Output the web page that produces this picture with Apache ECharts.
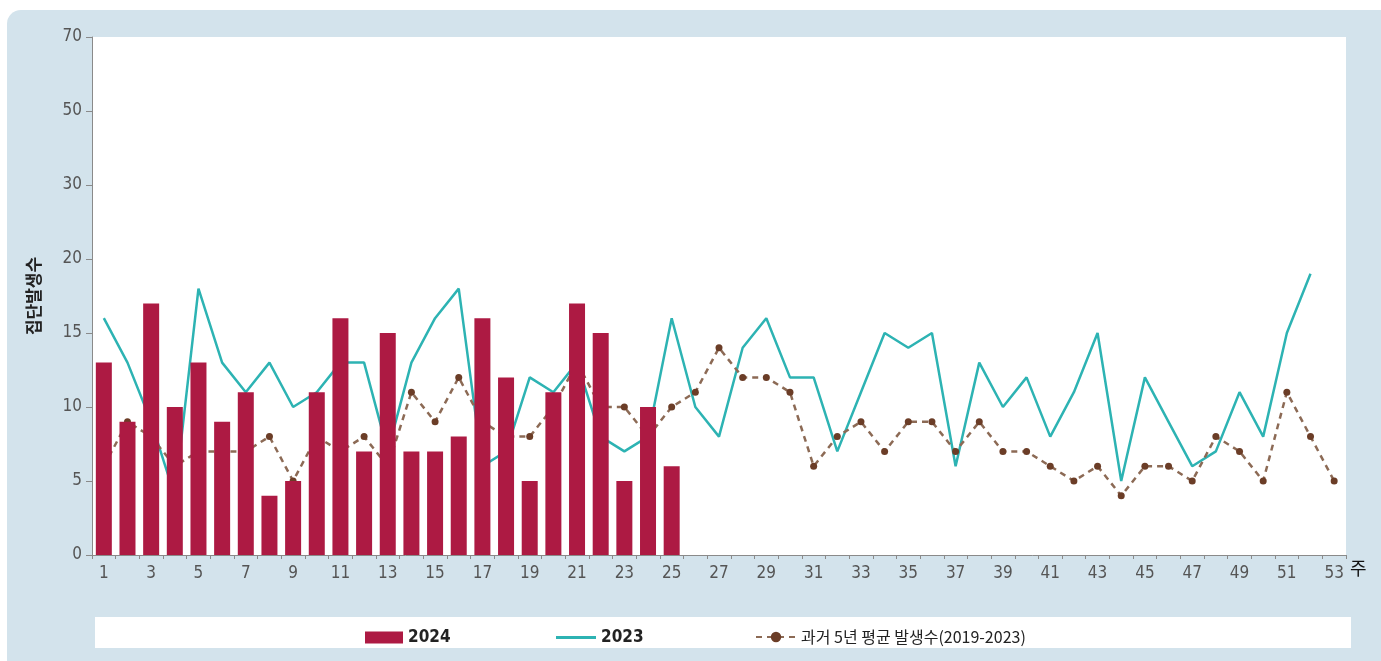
<!DOCTYPE html>
<html>
<head>
<meta charset="utf-8">
<script src="https://cdn.jsdelivr.net/npm/echarts@6/dist/echarts.min.js"></script>
<style>
  html, body { margin: 0; padding: 0; background: #fff; }
  #main { width: 1381px; height: 661px; }
</style>
</head>
<body>
<div id="main"></div>
<script>
// 주차 (1~53)
var weeks = ['1','2','3','4','5','6','7','8','9','10','11','12','13','14','15','16','17','18','19','20',
  '21','22','23','24','25','26','27','28','29','30','31','32','33','34','35','36','37','38','39','40',
  '41','42','43','44','45','46','47','48','49','50','51','52','53'];
// y축 눈금 라벨 (20 이상은 구간 압축)
var yTickLabels = ['0','5','10','15','20','30','50','70'];

var data2024 = [13, 9, 17, 10, 13, 9, 11, 4, 5, 11, 16, 7, 15, 7, 7, 8, 16, 12, 5, 11, 17, 15, 5, 10, 6];
var data2023 = [16, 13, 9, 4, 18, 13, 11, 13, 10, 11, 13, 13, 7, 13, 16, 18, 6, 7, 12, 11,
  13, 8, 7, 8, 16, 10, 8, 14, 16, 12, 12, 7, 11, 15, 14, 15, 6, 13, 10, 12,
  8, 11, 15, 5, 12, 9, 6, 7, 11, 8, 15, 19];
var dataAvg = [6, 9, 8, 6, 7, 7, 7, 8, 5, 8, 7, 8, 6, 11, 9, 12, 9, 8, 8, 10,
  13, 10, 10, 8, 10, 11, 14, 12, 12, 11, 6, 8, 9, 7, 9, 9, 7, 9, 7, 7,
  6, 5, 6, 4, 6, 6, 5, 8, 7, 5, 11, 8, 5];

var numFont = "'Liberation Sans Narrow', 'DejaVu Sans Condensed', 'Roboto', sans-serif";
var korFont = "'Noto Sans CJK KR', sans-serif";

var myChart = echarts.init(document.getElementById('main'));

var option = {
  animation: false,
  graphic: [
    {
      type: 'rect', z: -10, silent: true,
      shape: { x: 7, y: 10, width: 1400, height: 680, r: 14 },
      style: { fill: '#d3e3ec' }
    },
    {
      type: 'rect', z: -9, silent: true,
      shape: { x: 95, y: 617, width: 1256, height: 31 },
      style: { fill: '#ffffff' }
    }
  ],
  grid: {
    left: 92, right: 35, top: 37, bottom: 106,
    show: true, backgroundColor: '#ffffff', borderWidth: 0
  },
  legend: [
    {
      data: [{ name: '2024', icon: 'rect' }], left: 360, top: 624, itemWidth: 38, itemHeight: 12, itemGap: 8,
      textStyle: { fontFamily: numFont, fontSize: 17, fontWeight: 'bold', color: '#222' }
    },
    {
      data: [{ name: '2023', icon: 'rect' }], left: 551, top: 624, itemWidth: 40, itemHeight: 3, itemGap: 8,
      textStyle: { fontFamily: numFont, fontSize: 17, fontWeight: 'bold', color: '#222' }
    },
    {
      data: ['과거 5년 평균 발생수(2019-2023)'], left: 750, top: 624, itemWidth: 40, itemHeight: 13, itemGap: 6,
      textStyle: { fontFamily: korFont, fontSize: 16, color: '#222' }
    }
  ],
  xAxis: {
    type: 'category',
    data: weeks,
    boundaryGap: true,
    name: '주',
    nameLocation: 'end',
    nameGap: 4,
    nameTextStyle: { fontFamily: korFont, fontSize: 18, color: '#111', verticalAlign: 'top', padding: [4, 0, 0, 0] },
    axisLine: { lineStyle: { color: '#8a8a8a', width: 1 } },
    axisTick: { show: true, interval: 0, length: 4, lineStyle: { color: '#8a8a8a' } },
    axisLabel: { interval: 1, margin: 10, fontFamily: numFont, fontSize: 17, color: '#555' },
    splitLine: { show: false }
  },
  yAxis: {
    type: 'value',
    min: 0, max: 35, interval: 5,
    name: '집단발생수',
    nameLocation: 'middle',
    nameGap: 50,
    nameRotate: 90,
    nameTextStyle: { fontFamily: korFont, fontSize: 17, fontWeight: 'bold', color: '#222' },
    axisLine: { show: true, lineStyle: { color: '#8a8a8a', width: 1 } },
    axisTick: { show: true, length: 6, lineStyle: { color: '#8a8a8a' } },
    axisLabel: {
      margin: 10, fontFamily: numFont, fontSize: 17, color: '#555',
      formatter: function (v) { return yTickLabels[Math.round(v / 5)]; }
    },
    splitLine: { show: false }
  },
  series: [
    {
      name: '2024',
      type: 'bar',
      data: data2024,
      barWidth: 16,
      z: 5,
      itemStyle: { color: '#ad1a43' }
    },
    {
      name: '2023',
      type: 'line',
      data: data2023,
      symbol: 'none',
      z: 3,
      lineStyle: { color: '#2db3b3', width: 2.5 },
      itemStyle: { color: '#2db3b3' }
    },
    {
      name: '과거 5년 평균 발생수(2019-2023)',
      type: 'line',
      data: dataAvg,
      symbol: 'circle',
      symbolSize: 7,
      z: 4,
      lineStyle: { color: '#8c6a55', width: 2.5, type: [6, 5] },
      itemStyle: { color: '#6b3d27' }
    }
  ]
};

myChart.setOption(option);
</script>
</body>
</html>
